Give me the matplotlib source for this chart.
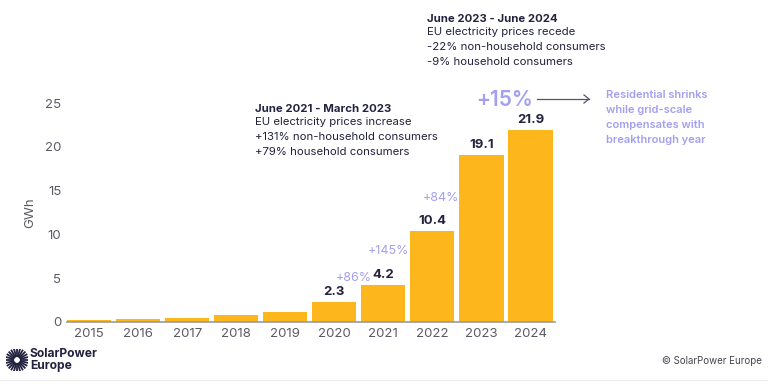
import numpy as np
import matplotlib.pyplot as plt

plt.rcParams['font.family'] = ['Inter', 'DejaVu Sans']

years = ['2015', '2016', '2017', '2018', '2019', '2020', '2021', '2022', '2023', '2024']
gwh = [0.2, 0.35, 0.5, 0.85, 1.15, 2.3, 4.2, 10.4, 19.1, 21.9]
shown = [5, 6, 7, 8, 9]   # bars with a value label
growth_txt = ['+86%', '+145%', '+84%']
growth_x = [5.39, 6.1, 7.18]
growth_y = [5.0, 8.1, 14.2]

orange = '#FDB71C'
navy = '#23233F'
lav = '#A3A0F0'
grey = '#5a5a66'

W, H = 768, 384
fig = plt.figure(figsize=(W / 100, H / 100), dpi=100)

def fx(px):
    return px / W

def fy(py):
    return 1 - py / H

ax = fig.add_axes([fx(67), fy(322), fx(555) - fx(67), fy(103) - fy(322)])
x = np.arange(len(years))
ax.bar(x, gwh, width=0.9, color=orange)
ax.set_xlim(-0.45, 9.5)
ax.set_ylim(0, 25)
ax.set_yticks([0, 5, 10, 15, 20, 25])
ax.set_xticks(x)
ax.set_xticklabels(years)
ax.tick_params(length=0, colors=grey, labelsize=9.5)
ax.tick_params(axis='y', pad=4)
ax.tick_params(axis='x', pad=4)
for s in ['top', 'right', 'left']:
    ax.spines[s].set_visible(False)
ax.spines['bottom'].set_color('#9a9aa0')
ax.spines['bottom'].set_linewidth(1.2)
ax.set_ylabel('GWh', color=grey, fontsize=9.5, labelpad=6)

for i in shown:
    ax.annotate('%.1f' % gwh[i], (i, gwh[i]), xytext=(0, 3), textcoords='offset points',
                ha='center', va='bottom', fontsize=9.5, fontweight='bold', color=navy)

for t, gx, gy in zip(growth_txt, growth_x, growth_y):
    ax.text(gx, gy, t, ha='center', va='center', fontsize=9, color=lav)

# text blocks
fig.text(fx(255), fy(109), 'June 2021 - March 2023', fontsize=8.2, fontweight='bold',
         color=navy, va='center')
fig.text(fx(255), fy(117), 'EU electricity prices increase\n+131% non-household consumers\n+79% household consumers',
         fontsize=8.2, color=navy, va='top', linespacing=1.6)

fig.text(fx(427), fy(19), 'June 2023 - June 2024', fontsize=8.2, fontweight='bold',
         color=navy, va='center')
fig.text(fx(427), fy(27), 'EU electricity prices recede\n-22% non-household consumers\n-9% household consumers',
         fontsize=8.2, color=navy, va='top', linespacing=1.6)

fig.text(fx(504), fy(100), '+15%', fontsize=15, fontweight='semibold', color=lav,
         ha='center', va='center')
fig.add_artist(plt.Line2D([fx(537), fx(589)], [fy(99), fy(99)], color='#55556a', lw=0.9))
fig.add_artist(plt.Line2D([fx(584), fx(589), fx(584)], [fy(95), fy(99), fy(103)],
                          color='#55556a', lw=0.9))
fig.text(fx(606), fy(90), 'Residential shrinks\nwhile grid-scale\ncompensates with\nbreakthrough year',
         fontsize=8, fontweight='semibold', color=lav, va='top', linespacing=1.62)

# footer
logo = fig.add_axes([fx(6), fy(371), fx(22), fy(349) - fy(371)])
logo.set_xlim(-1, 1)
logo.set_ylim(-1, 1)
logo.axis('off')
for a in np.linspace(0, 2 * np.pi, 24, endpoint=False):
    logo.plot([0.35 * np.cos(a), np.cos(a)], [0.35 * np.sin(a), np.sin(a)],
              color=navy, lw=1.3)
fig.text(fx(30), fy(360), 'SolarPower\nEurope', fontsize=8.7, fontweight='bold',
         color=navy, va='center', linespacing=0.92)
fig.text(fx(762), fy(361), '© SolarPower Europe', fontsize=7, color='#444450',
         ha='right', va='center')
fig.add_artist(plt.Line2D([0, 1], [fy(380), fy(380)], color='#ececec', lw=1))

fig.savefig('out.png', dpi=100)
